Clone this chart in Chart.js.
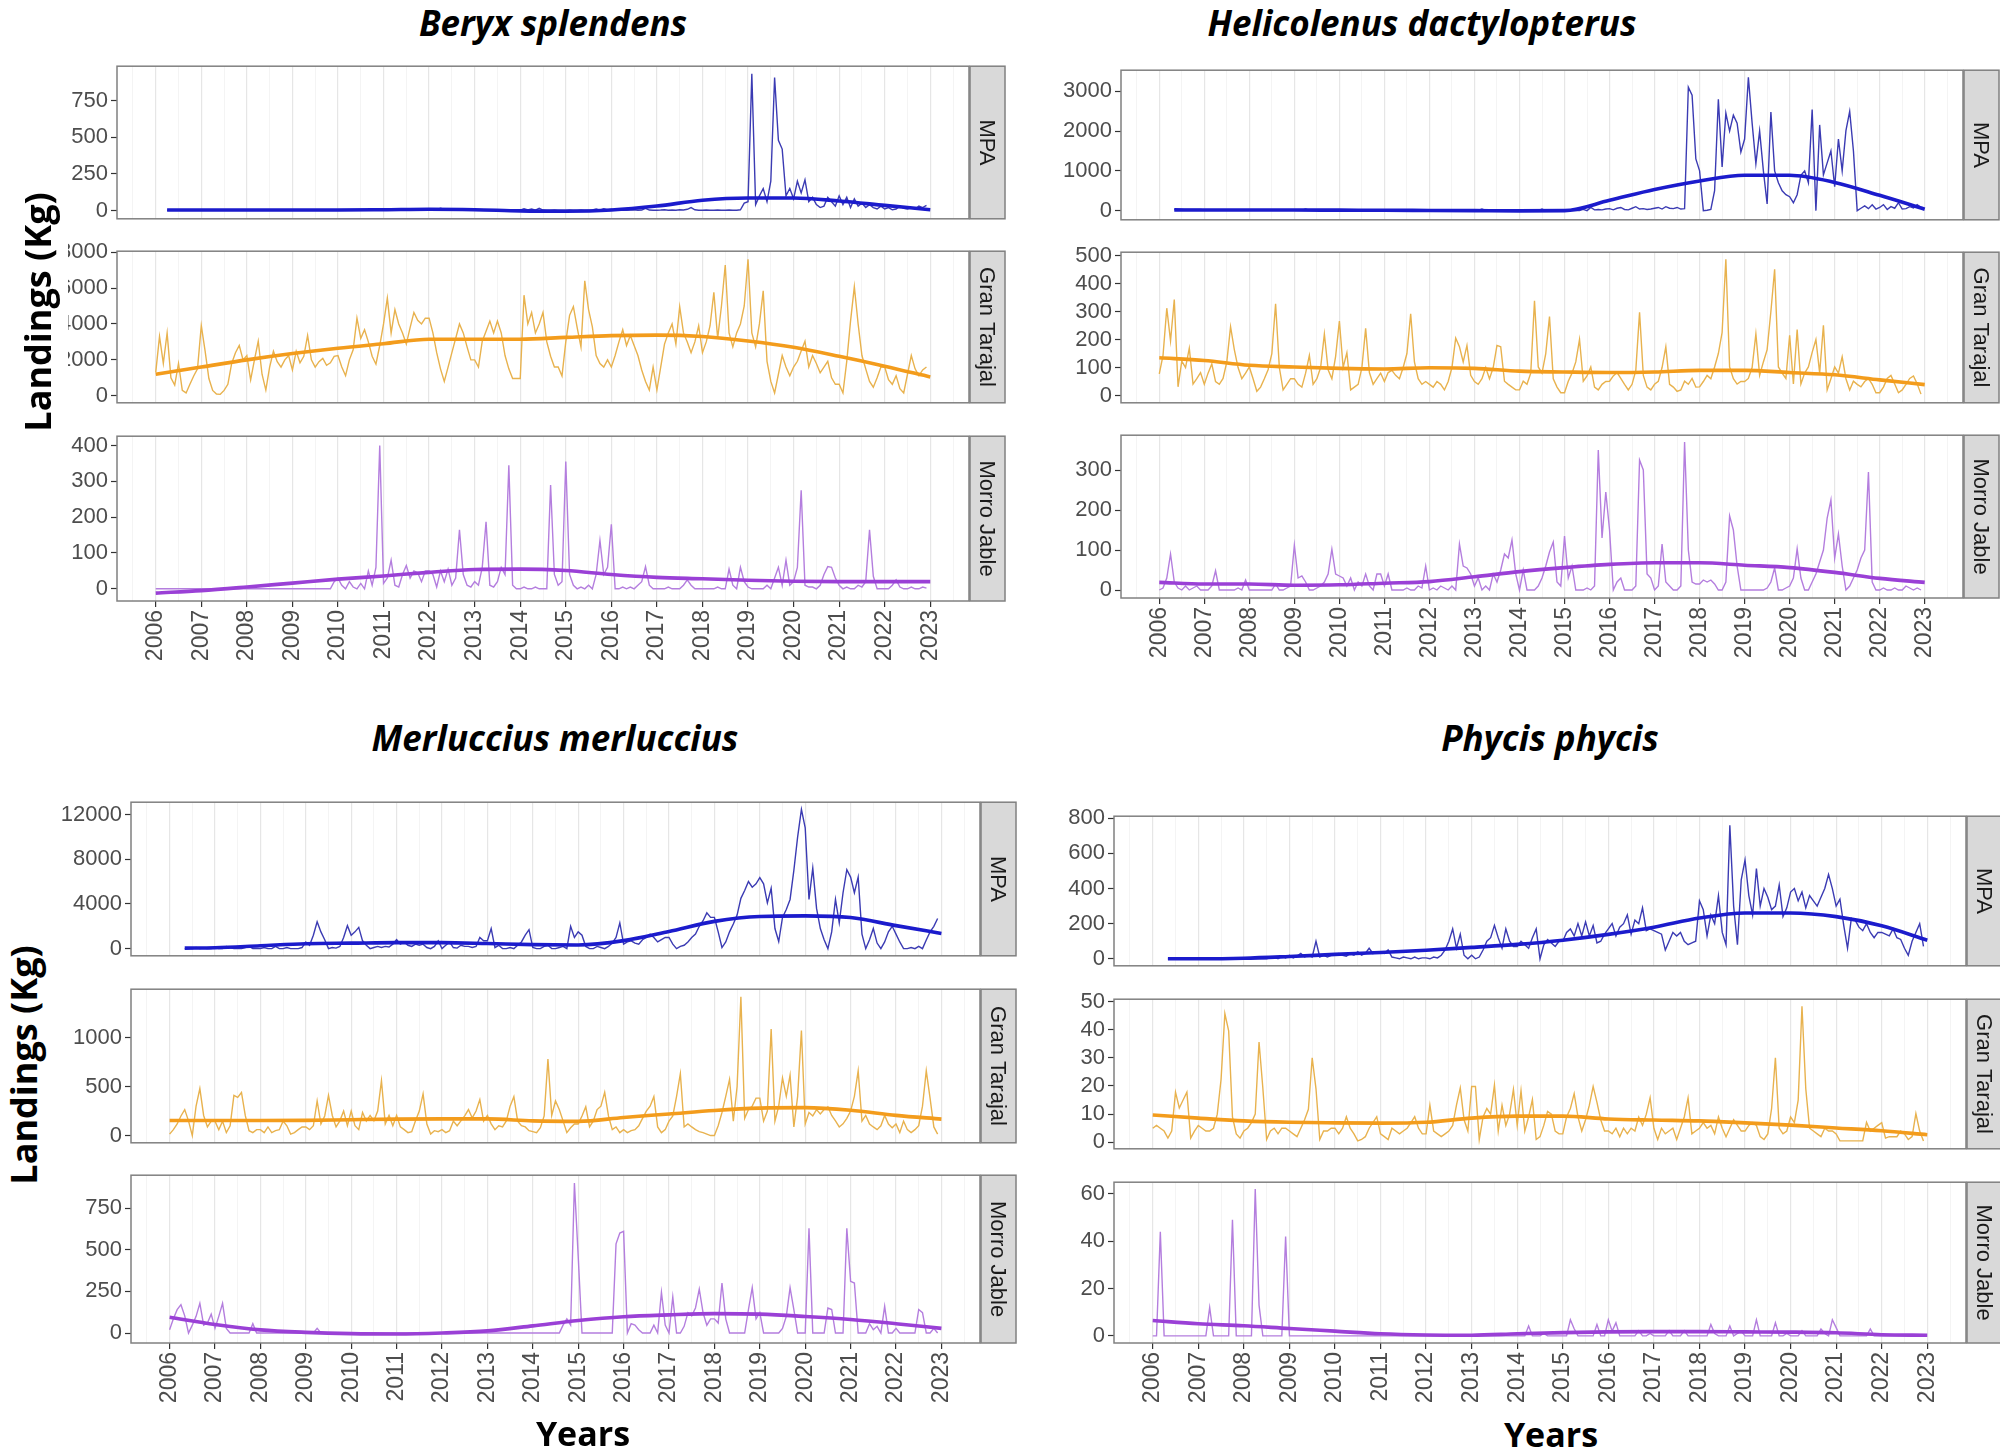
<!DOCTYPE html>
<html>
<head>
<meta charset="utf-8">
<script src="https://cdn.jsdelivr.net/npm/chart.js@4.4.1/dist/chart.umd.min.js"></script>
<style>
  body { margin: 0; background: #fff; }
  #page { position: relative; width: 2000px; height: 1450px; overflow: hidden; background: #fff; }
  canvas { position: absolute; }
  .title { position: absolute; font: italic 700 35px "Open Sans", sans-serif; color: #000; white-space: nowrap; transform: translate(-50%, -50%); }
  .ylab { position: absolute; font: 700 36px "Open Sans", sans-serif; color: #000; white-space: nowrap; text-align: center; transform: translate(-50%, -50%) rotate(-90deg); }
  .ylab.boxed { background: #fff; width: 250px; height: 60px; line-height: 60px; }
  .xlab { position: absolute; font: 700 34px "Open Sans", sans-serif; color: #000; white-space: nowrap; transform: translate(-50%, -50%); }
</style>
</head>
<body>
<div id="page"></div>
<script>
// years on the axis (monthly data start in Jan 2006)
const YEARS = [2006, 2007, 2008, 2009, 2010, 2011, 2012, 2013, 2014, 2015, 2016, 2017, 2018, 2019, 2020, 2021, 2022, 2023];

// ---------- Beryx splendens ----------
const BERYX_MPA = [
  null, null, null, 2, 2, 2, 2, 2, 2, 2, 2, 2,
  2, 2, 3, 2, 2, 3, 2, 2, 2, 3, 2, 2,
  2, 2, 2, 3, 2, 2, 2, 2, 3, 2, 2, 2,
  2, 3, 2, 2, 2, 2, 3, 2, 2, 2, 3, 2,
  2, 2, 3, 2, 2, 2, 2, 3, 2, 2, 2, 2,
  3, 2, 2, 2, 3, 2, 2, 2, 3, 5, 3, 2,
  2, 3, 5, 15, 8, 3, 2, 3, 2, 2, 3, 2,
  2, 2, 3, 2, 2, 3, 2, 2, 3, 2, 2, 2,
  2, 12, 3, 10, 2, 15, 3, 2, 2, 3, 2, 2,
  2, 3, 2, 2, 3, 2, 2, 3, 10, 2, 12, 3,
  8, 2, 3, 2, 2, 3, 5, 2, 3, 15, 3, 2,
  2, 3, 5, 2, 3, 2, 5, 3, 8, 20, 5, 2,
  2, 3, 2, 2, 3, 2, 2, 3, 2, 2, 5, 50,
  60, 935, 40, 100, 150, 60, 200, 910, 480, 420, 100, 150,
  80, 200, 120, 210, 60, 90, 40, 20, 30, 90, 60, 30,
  100, 40, 90, 20, 80, 30, 50, 20, 40, 20, 10, 30,
  10, 20, 5, 10, 30, 15, 10, 20, 10, 30, 20, 35
];
const BERYX_MPA_TREND = [3, 3, 3, 3, 3, 5, 8, 5, -3, -5, 3, 30, 70, 85, 85, 65, 35, 5];
const BERYX_GT = [
  1300, 3300, 1800, 3500, 1000, 600, 1800, 300, 160, 640, 1100, 1500,
  3900, 2500, 960, 300, 100, 80, 300, 640, 1800, 2400, 2800, 2000,
  2240, 880, 2000, 3040, 1200, 320, 1600, 2480, 1900, 1600, 2000, 2240,
  1440, 2480, 1840, 2200, 3360, 2000, 1600, 1900, 2080, 1700, 1840, 2200,
  2240, 1600, 1120, 2000, 2560, 4320, 3200, 3680, 3000, 2200, 1760, 2800,
  4000, 5440, 3500, 4800, 4000, 3500, 2880, 3800, 4640, 4200, 4000, 4320,
  4320, 3500, 2400, 1500, 800, 1600, 2400, 3200, 4000, 3500, 2720, 2000,
  2000, 1600, 3040, 3600, 4160, 3500, 4160, 3500, 2240, 1500, 960, 960,
  960, 5600, 4000, 4640, 3500, 4000, 4640, 3000, 2200, 1600, 1600, 1100,
  3000, 4480, 4960, 3800, 2720, 6400, 4800, 3840, 2240, 1800, 1600, 2000,
  1600, 2240, 3000, 3680, 2800, 3360, 2800, 2240, 1440, 800, 320, 1600,
  320, 1600, 2880, 3500, 4000, 2880, 4960, 3500, 3000, 2400, 3000, 3900,
  2400, 3000, 3900, 5760, 3200, 5000, 7280, 3500, 2720, 3500, 4000, 5000,
  7600, 3500, 2720, 4000, 5840, 1920, 800, 160, 1200, 2240, 1600, 1120,
  1600, 1920, 2500, 3040, 1600, 2240, 1800, 1280, 1600, 1920, 1000, 640,
  640, 160, 1920, 4160, 6080, 4000, 2240, 1500, 800, 480, 1000, 1600,
  1600, 900, 640, 1120, 400, 160, 1200, 2240, 1500, 1120, 1440, 1600
];
const BERYX_GT_TREND = [1200, 1600, 2000, 2350, 2650, 2900, 3150, 3150, 3150, 3250, 3350, 3380, 3300, 3050, 2700, 2200, 1650, 1050];
const BERYX_MJ = [
  0, 0, 0, 0, 0, 0, 0, 0, 0, 0, 0, 0,
  0, 0, 0, 0, 0, 0, 0, 0, 0, 0, 0, 0,
  0, 0, 0, 0, 0, 0, 0, 0, 0, 0, 0, 0,
  0, 0, 0, 0, 0, 0, 0, 0, 0, 0, 0, 20,
  30, 10, 0, 20, 5, 0, 15, 0, 50, 10, 60, 400,
  15, 30, 80, 10, 5, 40, 65, 30, 50, 45, 20, 50,
  50, 40, 5, 50, 20, 55, 10, 30, 165, 40, 10, 5,
  20, 10, 60, 187, 10, 5, 20, 60, 40, 345, 10, 0,
  0, 5, 0, 0, 5, 0, 0, 0, 290, 40, 10, 20,
  355, 40, 10, 0, 5, 0, 10, 0, 40, 135, 40, 60,
  180, 0, 0, 5, 0, 5, 0, 10, 20, 62, 10, 0,
  0, 0, 0, 5, 0, 0, 0, 10, 25, 10, 0, 0,
  0, 0, 0, 0, 5, 0, 0, 55, 10, 0, 60, 20,
  5, 0, 0, 0, 0, 10, 0, 30, 60, 10, 80, 10,
  20, 60, 275, 10, 5, 5, 0, 10, 40, 62, 60, 30,
  10, 0, 5, 0, 0, 10, 5, 20, 165, 35, 0, 0,
  0, 0, 10, 25, 5, 0, 0, 5, 0, 0, 5, 2
];
const BERYX_MJ_TREND = [-12, -5, 5, 16, 27, 36, 46, 54, 55, 51, 40, 32, 28, 24, 21, 20, 20, 20];

// ---------- Helicolenus dactylopterus ----------
const HELI_MPA = [
  null, null, null, null, 30, 30, 30, 30, 30, 30, 30, 30,
  20, 20, 25, 20, 20, 20, 25, 20, 20, 20, 20, 20,
  20, 20, 20, 20, 20, 20, 20, 20, 20, 20, 20, 20,
  15, 15, 15, 40, 15, 15, 15, 15, 15, 15, 15, 15,
  15, 15, 15, 15, 15, 15, 15, 15, 15, 15, 15, 15,
  10, 10, 10, 10, 10, 10, 10, 10, 10, 10, 10, 10,
  5, 5, 5, 5, 5, 5, 5, 5, 5, 5, 5, 5,
  5, 5, 40, 5, 5, 0, 0, 0, 0, 0, 0, 0,
  0, 0, 0, 0, 0, 0, 40, 0, 0, 0, 0, 0,
  0, 0, 0, 10, 0, 30, 0, 80, 20, 30, 20, 40,
  50, 20, 60, 80, 30, 20, 60, 100, 40, 50, 30, 40,
  60, 80, 40, 100, 60, 50, 80, 40, 50, 3100, 2900, 1300,
  1000, 0, 10, 30, 500, 2800, 1100, 2450, 2000, 2400, 2200, 1470,
  1800, 3350, 2200, 1180, 2000, 1000, 166, 2480, 1000, 700, 500, 400,
  350, 200, 400, 890, 1000, 700, 2540, 0, 2155, 900, 1200, 1500,
  600, 1800, 1000, 2010, 2494, 1500, 0, 60, 120, 50, 150, 40,
  80, 150, 30, 100, 60, 200, 40, 50, 100, 70, 150, 80
];
const HELI_MPA_TREND = [20, 15, 15, 15, 12, 10, 5, 0, -5, 0, 260, 530, 745, 890, 890, 710, 385, 36];
const HELI_GT = [
  77, 143, 312, 195, 343, 31, 123, 100, 169, 41, 60, 82,
  40, 80, 113, 50, 40, 61, 120, 246, 164, 100, 60, 80,
  102, 60, 15, 30, 60, 92, 150, 328, 100, 20, 40, 60,
  60, 40, 30, 80, 143, 40, 60, 100, 220, 92, 60, 140,
  266, 100, 153, 20, 30, 40, 100, 240, 82, 40, 60, 80,
  50, 82, 90, 72, 60, 100, 150, 292, 120, 60, 40, 50,
  40, 30, 50, 40, 20, 50, 100, 205, 174, 120, 179, 72,
  50, 40, 60, 100, 60, 100, 179, 174, 51, 40, 30, 20,
  20, 51, 40, 80, 338, 102, 80, 150, 282, 60, 30, 10,
  10, 51, 80, 120, 200, 51, 70, 102, 30, 20, 40, 50,
  51, 70, 82, 61, 40, 20, 40, 90, 297, 72, 30, 20,
  40, 51, 100, 174, 40, 30, 15, 20, 51, 40, 61, 30,
  31, 50, 72, 60, 102, 150, 225, 487, 102, 60, 41, 50,
  50, 61, 100, 220, 72, 120, 164, 300, 451, 102, 80, 61,
  215, 41, 236, 41, 80, 102, 154, 200, 80, 251, 20, 60,
  102, 80, 138, 60, 20, 51, 40, 31, 50, 61, 40, 10,
  10, 30, 61, 72, 41, 10, 20, 40, 61, 70, 41, 5
];
const HELI_GT_TREND = [135, 125, 108, 102, 97, 95, 99, 97, 87, 84, 82, 84, 90, 90, 82, 74, 56, 39];
const HELI_MJ = [
  0, 5, 30, 90, 20, 5, 0, 10, 0, 5, 10, 0,
  0, 0, 10, 48, 0, 0, 0, 0, 0, 5, 0, 25,
  0, 0, 0, 0, 0, 0, 0, 15, 0, 0, 5, 10,
  112, 30, 35, 20, 0, 0, 5, 10, 20, 40, 102, 40,
  35, 30, 10, 30, 0, 20, 10, 40, 10, 0, 40, 40,
  10, 40, 0, 0, 0, 0, 5, 0, 0, 10, 5, 60,
  0, 5, 0, 10, 5, 0, 10, 0, 115, 60, 55, 40,
  10, 30, 0, 10, 0, 40, 20, 50, 90, 80, 125, 40,
  0, 50, 0, 0, 0, 10, 30, 60, 95, 120, 20, 10,
  135, 30, 60, 0, 0, 0, 5, 0, 10, 350, 130, 245,
  150, 0, 20, 30, 0, 0, 0, 10, 325, 300, 40, 30,
  0, 10, 115, 20, 10, 0, 0, 10, 370, 100, 20, 15,
  15, 25, 20, 25, 15, 0, 0, 20, 185, 150, 60, 0,
  0, 0, 0, 0, 0, 0, 5, 20, 55, 0, 0, 5,
  10, 30, 103, 30, 0, 0, 20, 40, 70, 100, 180, 225,
  80, 140, 60, 0, 10, 30, 50, 80, 100, 295, 20, 0,
  0, 5, 0, 0, 5, 0, 0, 10, 5, 0, 5, 0
];
const HELI_MJ_TREND = [19, 15, 15, 12, 13, 17, 21, 33, 46, 56, 64, 68, 68, 62, 56, 44, 29, 19];

// ---------- Merluccius merluccius ----------
const MERL_MPA = [
  null, null, null, null, 0, 50, 0, 100, 0, 50, 0, 0,
  100, 0, 0, 200, 100, 0, 0, 0, 100, 200, 0, 0,
  0, 100, 0, 0, 200, 0, 0, 100, 0, 0, 0, 100,
  600, 300, 1200, 2400, 1500, 800, 0, 100, 50, 200, 1000, 2055,
  1200, 1500, 1900, 700, 300, 0, 100, 200, 100, 200, 150, 400,
  800, 400, 600, 300, 200, 400, 300, 400, 100, 0, 200, 700,
  0, 300, 600, 100, 50, 300, 200, 200, 100, 200, 1000, 700,
  700, 1800, 100, 300, 0, 0, 100, 0, 300, 600, 1200, 1700,
  100, 0, 0, 200, 300, 0, 0, 100, 200, 0, 2000, 1000,
  1500, 1200, 200, 0, 0, 200, 100, 0, 200, 500, 1000, 2300,
  400, 600, 700, 500, 400, 800, 1000, 1300, 1000, 600, 800, 1000,
  1000, 400, 0, 200, 300, 600, 1000, 1300, 2000, 2500, 3200, 2800,
  2800, 1500, 100, 600, 1500, 2200, 3000, 4500, 5200, 6000, 5500, 5800,
  6350, 5800, 4100, 5400, 1800, 640, 2800, 3500, 4400, 7000, 10000, 12460,
  10800, 4400, 7200, 3600, 1800, 800, 0, 1500, 4400, 2300, 5000, 7070,
  6400, 5000, 6400, 1300, 0, 800, 1800, 500, 0, 600, 1500, 2000,
  1300, 600, 0, 0, 100, 0, 200, 0, 770, 1500, 2000, 2700
];
const MERL_MPA_TREND = [50, 80, 260, 440, 490, 540, 540, 460, 360, 330, 720, 1540, 2440, 2880, 2930, 2780, 2060, 1360];
const MERL_GT = [
  15, 60, 118, 200, 265, 150, 0, 300, 480, 205, 88, 147,
  147, 60, 147, 30, 100, 410, 390, 440, 205, 50, 30, 60,
  60, 30, 88, 30, 50, 60, 147, 100, 15, 30, 60, 88,
  88, 60, 100, 353, 118, 200, 410, 205, 88, 150, 250, 100,
  250, 100, 60, 235, 147, 205, 150, 250, 560, 118, 205, 100,
  205, 88, 60, 30, 40, 150, 250, 426, 118, 15, 50, 40,
  60, 30, 50, 147, 100, 150, 200, 265, 180, 250, 367, 147,
  205, 120, 60, 100, 88, 150, 300, 397, 147, 100, 88, 50,
  40, 30, 80, 200, 780, 205, 353, 265, 150, 30, 80, 118,
  118, 200, 294, 88, 150, 265, 300, 441, 200, 60, 88, 30,
  60, 30, 50, 60, 100, 176, 250, 300, 397, 88, 30, 60,
  147, 200, 400, 632, 88, 118, 88, 60, 40, 30, 15, 0,
  0, 100, 235, 400, 573, 147, 500, 1417, 176, 265, 300, 382,
  382, 147, 250, 1088, 147, 300, 588, 400, 617, 88, 400, 1073,
  118, 235, 200, 265, 220, 265, 294, 205, 150, 88, 120, 176,
  250, 400, 661, 147, 205, 118, 88, 60, 100, 205, 118, 80,
  118, 30, 147, 60, 30, 60, 100, 300, 661, 382, 88, 15
];
const MERL_GT_TREND = [153, 153, 153, 155, 162, 168, 170, 170, 150, 145, 185, 220, 256, 280, 285, 259, 206, 168];
const MERL_MJ = [
  19, 85, 140, 170, 103, 0, 47, 100, 178, 47, 60, 113,
  28, 100, 178, 28, 0, 0, 0, 0, 0, 0, 56, 0,
  0, 0, 0, 0, 0, 0, 0, 0, 0, 0, 0, 0,
  0, 0, 0, 28, 0, 0, 0, 0, 0, 0, 0, 0,
  0, 0, 0, 0, 0, 0, 0, 0, 0, 0, 0, 0,
  0, 0, 0, 0, 0, 0, 0, 0, 0, 0, 0, 0,
  0, 0, 0, 0, 0, 0, 0, 0, 0, 0, 0, 0,
  0, 0, 0, 0, 0, 0, 0, 0, 0, 0, 0, 0,
  0, 0, 0, 0, 0, 0, 0, 0, 47, 85, 47, 900,
  460, 0, 0, 0, 0, 0, 0, 0, 0, 0, 535, 600,
  610, 0, 56, 47, 20, 0, 0, 0, 47, 0, 244, 47,
  0, 216, 0, 0, 40, 122, 103, 150, 263, 122, 47, 85,
  85, 60, 300, 85, 0, 0, 0, 0, 0, 141, 272, 85,
  122, 0, 0, 0, 0, 0, 28, 100, 272, 141, 0, 0,
  0, 628, 0, 0, 0, 0, 150, 141, 0, 0, 0, 628,
  310, 300, 0, 0, 0, 56, 20, 40, 0, 160, 0, 0,
  28, 0, 0, 0, 0, 0, 141, 122, 0, 0, 28, 0
];
const MERL_MJ_TREND = [94, 51, 19, 4, -4, -6, 0, 13, 43, 75, 98, 109, 116, 113, 99, 81, 56, 28];

// ---------- Phycis phycis ----------
const PHYC_MPA = [
  null, null, null, null, 0, 0, 0, 0, 0, 0, 0, 0,
  0, 0, 0, 0, 0, 0, 0, 2, 0, 0, 0, 0,
  0, 0, 0, 0, 0, 0, 0, 5, 10, 0, 15, 5,
  20, 5, 15, 30, 10, 20, 10, 100, 10, 20, 10, 20,
  20, 30, 20, 15, 30, 20, 40, 20, 30, 60, 30, 40,
  40, 30, 50, 10, 5, 0, 10, 5, 0, 10, 0, 5,
  5, 0, 10, 5, 20, 50, 100, 170, 60, 140, 20, 0,
  20, 0, 10, 50, 100, 120, 190, 120, 60, 170, 100, 70,
  70, 100, 80, 60, 120, 170, 0, 80, 110, 90, 70, 100,
  100, 150, 170, 130, 200, 130, 210, 130, 190, 90, 100, 140,
  170, 200, 130, 180, 200, 250, 140, 220, 200, 290, 160, 170,
  160, 150, 140, 50, 100, 150, 130, 150, 100, 80, 90, 100,
  330, 280, 130, 250, 200, 360, 150, 80, 760, 300, 80, 450,
  563, 360, 250, 514, 300, 400, 350, 280, 300, 420, 240, 290,
  380, 400, 330, 380, 290, 360, 330, 300, 350, 400, 480, 400,
  300, 340, 190, 60, 230, 220, 180, 160, 200, 150, 120, 150,
  150, 140, 130, 170, 120, 110, 60, 20, 100, 150, 200, 70
];
const PHYC_MPA_TREND = [0, 0, 3, 13, 25, 36, 49, 65, 82, 106, 139, 180, 232, 261, 261, 240, 188, 106];
const PHYC_GT = [
  5, 6, 5, 4, 1.5, 4, 17.8, 12.2, 15, 17.8, 1.5, 4,
  6, 5, 4, 4, 5, 10, 22.4, 45.7, 39.6, 9, 3, 1.5,
  4, 5, 7, 10, 35.6, 19.3, 1, 4, 5, 3, 5, 5,
  4, 3, 2, 5, 8, 11.7, 30, 19, 1, 4, 4, 5,
  5, 3, 5, 9.1, 5, 3, 0.5, 1, 2, 5, 7, 9.1,
  3, 2, 1, 5, 4, 3, 4, 5, 7, 9.1, 5, 3,
  3, 13.2, 4, 3, 2, 3, 4, 6, 13.2, 19.3, 8, 4,
  19.8, 19.8, 1, 9, 12, 10, 20.3, 4, 13.2, 6, 10, 18.8,
  6, 18.3, 4, 9, 15.2, 1, 2, 6, 11, 10, 4, 3,
  3, 9, 12, 17.3, 9, 4, 8, 13.2, 19.8, 14.2, 8, 4,
  4, 3, 5, 2, 5, 3, 5, 4, 9, 6, 10, 15.8,
  5, 1, 5, 3, 4, 5, 1, 5, 9, 15.8, 3, 4,
  5, 7, 5, 6, 3, 9, 5, 2, 5, 8, 6, 4,
  4, 6, 7, 6, 2, 1, 3, 12, 30, 5, 3, 4,
  9, 7, 15, 48.3, 19, 5, 4, 3, 2, 5, 4, 4,
  3, 0.5, 0.5, 0.5, 0.5, 0.5, 0.5, 0.5, 7.1, 4, 5, 6,
  7, 1.5, 2, 2, 2, 4, 3, 1, 2, 10.2, 4, 0.5
];
const PHYC_GT_TREND = [9.7, 8.6, 7.6, 7.1, 6.9, 6.8, 7.1, 8.6, 9.3, 9.3, 8.3, 7.9, 7.6, 6.9, 6.1, 5.1, 4.1, 2.7];
const PHYC_MJ = [
  0, 0, 44, 0, 0, 0, 0, 0, 0, 0, 0, 0,
  0, 0, 0, 12, 0, 0, 0, 0, 0, 49, 0, 0,
  0, 0, 0, 62, 13, 0, 0, 0, 0, 0, 0, 42,
  0, 0, 0, 0, 0, 0, 0, 0, 0, 0, 0, 0,
  0, 0, 0, 0, 0, 0, 0, 0, 0, 0, 0, 0,
  0, 0, 0, 0, 0, 0, 0, 0, 0, 0, 0, 0,
  0, 0, 0, 0, 0, 0, 0, 0, 0, 0, 0, 0,
  0, 0, 0, 0, 0, 0, 0, 0, 0, 0, 0, 0,
  0, 0, 0, 4.2, 0, 0, 0, 1, 0, 0, 0, 0,
  0, 0, 6.8, 3, 0, 0, 0, 0, 0, 4.8, 0, 0,
  6.8, 2, 5.5, 0, 0, 0, 0, 0, 2.2, 0, 0, 1,
  0, 0, 0, 0, 2.2, 0, 0, 0, 2.2, 0, 0, 0,
  0, 0, 0, 4.8, 1, 0, 0, 0, 4.2, 0, 1, 2,
  0, 0, 0, 6.8, 0, 0, 0, 0, 5.5, 0, 0, 1,
  0, 0, 0, 2.2, 0, 0, 0, 0, 2.9, 1, 0, 6.8,
  3.5, 0, 0, 0, 0, 0, 0, 0, 0, 2.9, 0, 0,
  0, 0, 0, 0, 0, 0, 0, 0, 0, 0, 0, 0
];
const PHYC_MJ_TREND = [6.5, 5.1, 4.3, 3.1, 2.0, 0.9, 0.4, 0.3, 0.9, 1.4, 1.7, 1.8, 1.8, 1.7, 1.6, 1.3, 0.5, 0.3];

// y tick labels per facet
const BERYX_TICKS = [[0, 250, 500, 750], [0, 2000, 4000, 6000, 8000], [0, 100, 200, 300, 400]];
const HELI_TICKS = [[0, 1000, 2000, 3000], [0, 100, 200, 300, 400, 500], [0, 100, 200, 300]];
const MERL_TICKS = [[0, 4000, 8000, 12000], [0, 500, 1000], [0, 250, 500, 750]];
const PHYC_TICKS = [[0, 200, 400, 600, 800], [0, 10, 20, 30, 40, 50], [0, 20, 40, 60]];

const SITES = ['MPA', 'Gran Tarajal', 'Morro Jable'];
const SITE_COLORS = {
  'MPA': { raw: '#3b3bb3', trend: '#1b1bcc' },
  'Gran Tarajal': { raw: '#e8b24e', trend: '#f39c1c' },
  'Morro Jable': { raw: '#b47ede', trend: '#9a40d6' }
};

const X_MIN = 2005.15, X_MAX = 2023.85;
const GRID_X = YEARS.flatMap(y => [y - 0.5, y]).concat([YEARS[YEARS.length - 1] + 0.5]);
const FONT = '"Liberation Sans", Arial, sans-serif';

// layout in page pixels
const PANELS = [
  { title: 'Beryx splendens', tx: 553, ty: 22, left: 117, right: 969,
    rows: [[54, 231, -57, 987], [239, 415, -390, 8050], [424, 601, -34, 426]],
    series: [BERYX_MPA, BERYX_GT, BERYX_MJ], trends: [BERYX_MPA_TREND, BERYX_GT_TREND, BERYX_MJ_TREND], ticks: BERYX_TICKS },
  { title: 'Helicolenus dactylopterus', tx: 1422, ty: 22, left: 1121, right: 1963,
    rows: [[58, 232, -230, 3530], [240, 415, -26, 512], [423, 598, -20, 387]],
    series: [HELI_MPA, HELI_GT, HELI_MJ], trends: [HELI_MPA_TREND, HELI_GT_TREND, HELI_MJ_TREND], ticks: HELI_TICKS },
  { title: 'Merluccius merluccius', tx: 555, ty: 737, left: 131, right: 980,
    rows: [[790, 968, -640, 13100], [977, 1155, -74, 1494], [1163, 1343, -60, 947]],
    series: [MERL_MPA, MERL_GT, MERL_MJ], trends: [MERL_MPA_TREND, MERL_GT_TREND, MERL_MJ_TREND], ticks: MERL_TICKS },
  { title: 'Phycis phycis', tx: 1550, ty: 737, left: 1114, right: 1966,
    rows: [[804, 978, -40, 812], [987, 1161, -2.3, 50.8], [1170, 1343, -3, 64.9]],
    series: [PHYC_MPA, PHYC_GT, PHYC_MJ], trends: [PHYC_MPA_TREND, PHYC_GT_TREND, PHYC_MJ_TREND], ticks: PHYC_TICKS }
];

const page = document.getElementById('page');
Chart.defaults.font.family = FONT;

const facetFrame = {
  id: 'facetFrame',
  afterDraw(chart, args, opts) {
    const { ctx, chartArea: a } = chart;
    const h = a.bottom - a.top;
    ctx.save();
    ctx.strokeStyle = '#808080';
    ctx.lineWidth = 1.5;
    ctx.strokeRect(a.left, a.top, a.right - a.left, h);
    const sx = a.right + opts.gap;
    ctx.fillStyle = '#d9d9d9';
    ctx.fillRect(sx, a.top, opts.width, h);
    ctx.strokeRect(sx, a.top, opts.width, h);
    ctx.translate(sx + opts.width / 2, a.top + h / 2);
    ctx.rotate(Math.PI / 2);
    ctx.fillStyle = '#1a1a1a';
    ctx.font = '22px ' + FONT;
    ctx.textAlign = 'center';
    ctx.textBaseline = 'middle';
    ctx.fillText(opts.label, 0, 1);
    ctx.restore();
  }
};

function makeFacet(panel, r) {
  const AXW = 80, GAP = 1, STRIP = 35, PADT = 4;
  const isBottom = r === 2;
  const bottomH = isBottom ? 68 : 4;
  const [top, bottom, ymin, ymax] = panel.rows[r];
  const W = AXW + (panel.right - panel.left) + GAP + STRIP + 3;
  const H = PADT + (bottom - top) + bottomH;
  const cv = document.createElement('canvas');
  cv.width = W; cv.height = H;
  cv.style.left = (panel.left - AXW) + 'px';
  cv.style.top = (top - PADT) + 'px';
  cv.style.width = W + 'px';
  cv.style.height = H + 'px';
  page.appendChild(cv);

  const site = SITES[r];
  const raw = panel.series[r].map((v, i) => ({ x: YEARS[0] + i / 12, y: v }));
  const firstX = raw.find(p => p.y !== null).x;
  const trend = panel.trends[r].map((v, i) => ({ x: Math.max(YEARS[i], firstX), y: v }));
  const tickVals = panel.ticks[r];

  new Chart(cv, {
    type: 'line',
    data: {
      datasets: [
        { data: trend, borderColor: SITE_COLORS[site].trend, borderWidth: 3.6, pointRadius: 0, cubicInterpolationMode: 'monotone' },
        { data: raw, borderColor: SITE_COLORS[site].raw, borderWidth: 1.4, pointRadius: 0, tension: 0, spanGaps: false }
      ]
    },
    options: {
      responsive: false,
      animation: false,
      events: [],
      layout: { padding: { left: 0, top: PADT, right: GAP + STRIP + 3, bottom: 0 } },
      plugins: {
        legend: { display: false },
        tooltip: { enabled: false },
        facetFrame: { label: site, gap: GAP, width: STRIP }
      },
      scales: {
        x: {
          type: 'linear', min: X_MIN, max: X_MAX,
          afterBuildTicks: s => { s.ticks = GRID_X.map(v => ({ value: v })); },
          afterFit: s => { s.height = bottomH; },
          border: { display: false },
          grid: {
            color: c => Number.isInteger(c.tick.value) ? '#e6e6e6' : '#f1f1f1',
            lineWidth: c => Number.isInteger(c.tick.value) ? 1.2 : 0.8,
            drawTicks: isBottom, tickLength: 6, tickWidth: 1.2,
            tickColor: c => Number.isInteger(c.tick.value) ? '#333333' : 'rgba(0,0,0,0)'
          },
          ticks: {
            display: isBottom, autoSkip: false, minRotation: 90, maxRotation: 90, padding: 3,
            color: '#4d4d4d', font: { size: 23 },
            callback: v => Number.isInteger(v) ? String(v) : ''
          }
        },
        y: {
          min: ymin, max: ymax,
          afterBuildTicks: s => { s.ticks = tickVals.map(v => ({ value: v })); },
          afterFit: s => { s.width = AXW; },
          border: { display: false },
          grid: { drawOnChartArea: false, drawTicks: true, tickLength: 6, tickWidth: 1.2, tickColor: '#333333' },
          ticks: { autoSkip: false, padding: 3, color: '#4d4d4d', font: { size: 22 }, callback: v => String(v) }
        }
      }
    },
    plugins: [facetFrame]
  });
}

function addText(cls, text, x, y) {
  const d = document.createElement('div');
  d.className = cls;
  d.textContent = text;
  d.style.left = x + 'px';
  d.style.top = y + 'px';
  page.appendChild(d);
}

PANELS.forEach(p => {
  [0, 1, 2].forEach(r => makeFacet(p, r));
  addText('title', p.title, p.tx, p.ty);
});
addText('ylab boxed', 'Landings (Kg)', 38, 312);
addText('ylab', 'Landings (Kg)', 23, 1065);
addText('xlab', 'Years', 583, 1433);
addText('xlab', 'Years', 1551, 1434);
</script>
</body>
</html>
